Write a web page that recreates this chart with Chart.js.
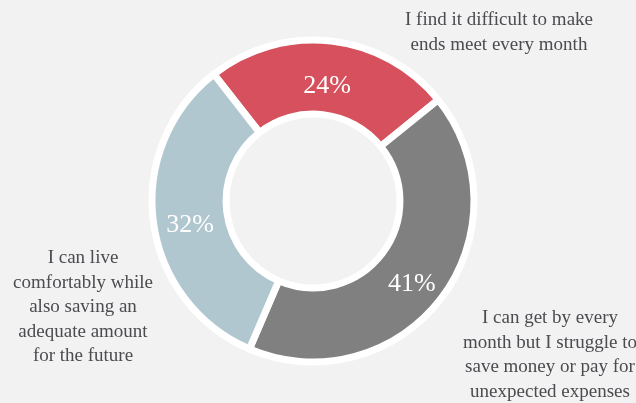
<!DOCTYPE html>
<html>
<head>
<meta charset="utf-8">
<script src="https://cdn.jsdelivr.net/npm/chart.js@4.4.1/dist/chart.umd.min.js"></script>
<style>
  html, body { margin: 0; padding: 0; background: #f2f2f2; }
  canvas { display: block; }
</style>
</head>
<body>
<canvas id="myChart" width="636" height="403"></canvas>
<script>
// Survey answers, each one split into the lines it is printed on

const answers = [
  ["I find it difficult to make", "ends meet every month"],
  ["I can get by every", "month but I struggle to", "save money or pay for", "unexpected expenses"],
  ["I can live", "comfortably while", "also saving an", "adequate amount", "for the future"],
];
const shares = [24, 41, 32];
const sliceColors = ["#d6515d", "#808080", "#b1c7d0"];

const serif = "'Liberation Serif', 'DejaVu Serif', serif";

// Percent value written in the middle of each slice, nudged a little down

const percentLabels = {
  id: "percentLabels",
  afterDatasetsDraw(chart, args, opts) {
    const ctx = chart.ctx;
    const arcs = chart.getDatasetMeta(0).data;
    ctx.save();
    ctx.fillStyle = "#ffffff";
    ctx.font = opts.size + "px " + serif;
    ctx.textAlign = "center";
    ctx.textBaseline = "middle";
    arcs.forEach((arc, i) => {
      const pos = arc.tooltipPosition();
      ctx.fillText(shares[i] + "%", pos.x, pos.y + opts.dy);
    });
    ctx.restore();
  },
};

// Answer text next to each slice, anchored by its first baseline

const answerLabels = {
  id: "answerLabels",
  afterDraw(chart, args, opts) {
    const ctx = chart.ctx;
    ctx.save();
    ctx.fillStyle = opts.color;
    ctx.font = opts.size + "px " + serif;
    ctx.textAlign = "center";
    ctx.textBaseline = "alphabetic";
    answers.forEach((lines, i) => {
      const a = opts.anchors[i];
      lines.forEach((line, j) => {
        ctx.fillText(line, a.x, a.y + j * opts.lineHeight);
      });
    });
    ctx.restore();
  },
};

new Chart("myChart", {
  type: "doughnut",
  data: {
    labels: answers.map((lines) => lines.join(" ")),
    datasets: [
      {
        data: shares,
        backgroundColor: sliceColors,
        borderColor: "#ffffff",
        borderWidth: 7,
      },
    ],
  },
  options: {
    responsive: false,
    animation: false,
    rotation: -38,
    radius: 161,
    cutout: "54%",
    layout: { padding: { left: 0, right: 10, top: 0, bottom: 1 } },
    plugins: {
      legend: { display: false },
      tooltip: { enabled: false },
      percentLabels: { size: 26, dy: 8 },
      answerLabels: {
        color: "#4b4b50",
        size: 19,
        lineHeight: 24.5,
        anchors: [
          { x: 499, y: 25 },
          { x: 550, y: 323 },
          { x: 83, y: 263 },
        ],
      },
    },
  },
  plugins: [percentLabels, answerLabels],
});
</script>
</body>
</html>
